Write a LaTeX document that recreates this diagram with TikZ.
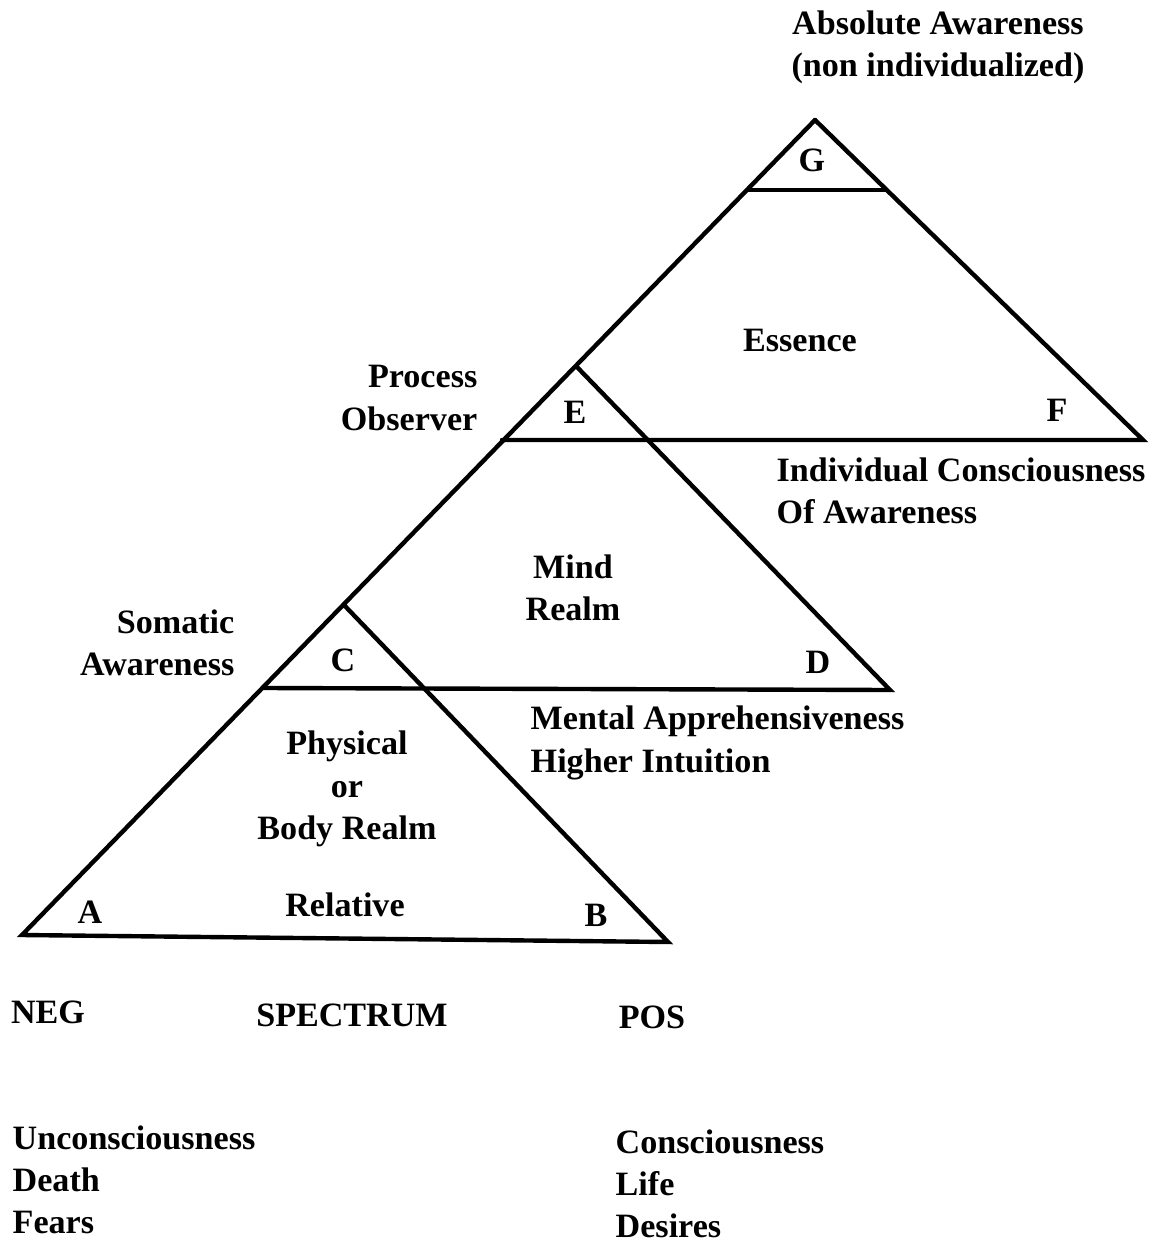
\documentclass[tikz,border=0pt]{standalone}
\usepackage{fontspec}
\setmainfont{Liberation Serif}
\begin{document}
\begin{tikzpicture}[x=0.01cm,y=-0.01cm,
  edge/.style={line width=1.25pt,line join=miter,line cap=round},
  lbl/.style={inner sep=0pt,font=\bfseries\fontsize{9.7}{12}\selectfont},
  lblL/.style={lbl,align=left},
  lblR/.style={lbl,align=right},
  lblC/.style={lbl,align=center}]
\useasboundingbox (0,0) rectangle (1150,1243);
% vertices
\coordinate (A0) at (22,935);
\coordinate (B0) at (668,942);
\coordinate (P1) at (344,605);
\coordinate (L2) at (263,688);
\coordinate (R2) at (890,690);
\coordinate (P2) at (577,367);
\coordinate (L3) at (502,440);
\coordinate (R3) at (1143,440);
\coordinate (P3) at (815,120);
\coordinate (G1) at (747,190);
\coordinate (G2) at (886,190);
% lines
\draw[edge] (P3) -- (A0) -- (B0) -- (P1);
\draw[edge] (L2) -- (R2) -- (P2);
\draw[edge] (L3) -- (R3) -- (P3);
\draw[edge] (G1) -- (G2);
% labels
\node[lblC] (abs) at (938,47) {Absolute Awareness\\(non individualized)};
\node[lbl] (g) at (812,160) {G};
\node[lbl] (ess) at (800,340) {Essence};
\node[lblR,anchor=east] (proc) at (478,398) {Process\\Observer};
\node[lbl] (e) at (575,412) {E};
\node[lbl] (f) at (1057,410) {F};
\node[lblL,anchor=west] (indiv) at (776,491) {Individual Consciousness\\Of Awareness};
\node[lblC] (mind) at (573,588) {Mind\\Realm};
\node[lblR,anchor=east] (som) at (235,643) {Somatic\\Awareness};
\node[lbl] (c) at (343,660) {C};
\node[lbl] (d) at (818,662) {D};
\node[lblL,anchor=west] (ment) at (530,743) {Mental Apprehensiveness\\Higher Intuition};
\node[lblC] (phys) at (347,789) {Physical\\or\\Body Realm};
\node[lbl] (a) at (90,912) {A};
\node[lbl] (rel) at (345,905) {Relative};
\node[lbl] (b) at (596,915) {B};
\node[lbl] (neg) at (48,1012) {NEG};
\node[lbl] (spec) at (352,1015) {SPECTRUM};
\node[lbl] (pos) at (652,1017) {POS};
\node[lblL,anchor=west] (unc) at (12,1180) {Unconsciousness\\Death\\Fears};
\node[lblL,anchor=west] (con) at (615,1184) {Consciousness\\Life\\Desires};
\end{tikzpicture}
\end{document}
